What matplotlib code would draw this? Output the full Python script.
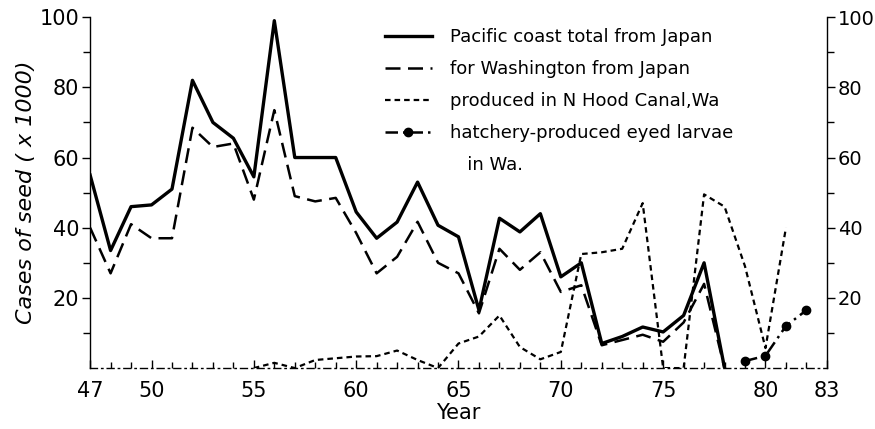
import matplotlib
matplotlib.use('Agg')
import matplotlib.pyplot as plt
from matplotlib.ticker import MultipleLocator, FixedLocator

# Seed imports, cases x 1000
years_total = list(range(47, 79))
pacific_total = [55, 33.5, 46, 46.5, 51, 82, 70, 65.5, 54.5, 99,
                 60, 60, 60, 44.5, 37, 41.6, 53, 40.7, 37.4, 16.5,
                 42.7, 38.8, 44, 26, 30, 7, 9, 11.7, 10.3, 15,
                 30, 0]
washington = [40, 27, 41, 37, 37, 68.5, 63, 64, 48, 73.5,
              49, 47.5, 48.5, 38.5, 27, 31.7, 41.7, 30, 27, 15.6,
              34, 28, 33, 21.7, 23.6, 6.5, 8, 9.5, 7.5, 13,
              24, 0]

years_hood = list(range(55, 82))
hood_canal = [0, 1.5, 0, 2.3, 2.8, 3.3, 3.4, 5, 2.3, 0,
              7, 9, 15, 6, 2.5, 4.6, 32.5, 33, 34, 47,
              0, 0, 49.5, 46, 29, 5.7, 40]

years_hatch = [79, 80, 81, 82]
hatchery = [2, 3.5, 12, 16.5]

labels = ['Pacific coast total from Japan',
          'for Washington from Japan',
          'produced in N Hood Canal,Wa',
          'hatchery-produced eyed larvae',
          '   in Wa.']

fig = plt.figure(figsize=(8.75, 4.29), dpi=100)
ax = fig.add_axes([0.103, 0.142, 0.842, 0.818])

ax.plot(years_total, pacific_total, color='black', lw=2.4, label=labels[0])
ax.plot(years_total, washington, color='black', lw=1.8,
        linestyle=(0, (6, 3)), label=labels[1])
ax.plot(years_hood, hood_canal, color='black', lw=1.6,
        linestyle=(0, (2.5, 1.8)), label=labels[2])
ax.plot(years_hatch, hatchery, color='black', lw=1.8,
        linestyle=(0, (5, 2, 1, 2)), marker='o', markersize=6,
        label=labels[3])
# second line of the last legend label, no handle
ax.plot([], [], color='none', label=labels[4])

ax.set_xlim(47, 83)
ax.set_ylim(0, 100)

# x axis
ax.xaxis.set_major_locator(FixedLocator([47, 50, 55, 60, 65, 70, 75, 80, 83]))
ax.xaxis.set_minor_locator(MultipleLocator(1))
ax.tick_params(axis='x', which='both', direction='in', labelsize=15, pad=9)
ax.tick_params(axis='x', which='major', length=6, width=1)
ax.tick_params(axis='x', which='minor', length=4, width=1)
ax.set_xlabel('Year', fontsize=15, labelpad=2)

# left axis
ax.yaxis.set_major_locator(FixedLocator([20, 40, 60, 80, 100]))
ax.yaxis.set_minor_locator(FixedLocator([10, 30, 50, 70, 90]))
ax.tick_params(axis='y', which='both', direction='out', labelsize=15)
ax.tick_params(axis='y', which='major', length=6, width=1, pad=2)
ax.tick_params(axis='y', which='minor', length=5, width=1)
ax.set_ylabel('Cases of seed ( x 1000)', fontsize=16, style='italic',
              labelpad=2)

ax.spines['top'].set_visible(False)
ax.spines['right'].set_visible(False)
ax.spines['left'].set_linewidth(1)
ax.spines['bottom'].set_linewidth(1)
ax.spines['bottom'].set_linestyle((0, (5, 3, 1, 3)))

# right axis, same scale
ax2 = ax.twinx()
ax2.set_ylim(0, 100)
ax2.yaxis.set_major_locator(FixedLocator([20, 40, 60, 80, 100]))
ax2.yaxis.set_minor_locator(FixedLocator([10, 30, 50, 70, 90]))
ax2.tick_params(axis='y', which='both', direction='out', labelsize=14)
ax2.tick_params(axis='y', which='major', length=6, width=1, pad=2)
ax2.tick_params(axis='y', which='minor', length=5, width=1)
ax2.spines['top'].set_visible(False)
ax2.spines['left'].set_visible(False)
ax2.spines['bottom'].set_visible(False)
ax2.spines['right'].set_linewidth(1)

leg = ax.legend(loc='upper left', bbox_to_anchor=(0.385, 1.0), frameon=False,
                fontsize=13, handlelength=2.6, handletextpad=1.0,
                labelspacing=0.78, borderaxespad=0.2)

fig.savefig('out.png', dpi=100)
